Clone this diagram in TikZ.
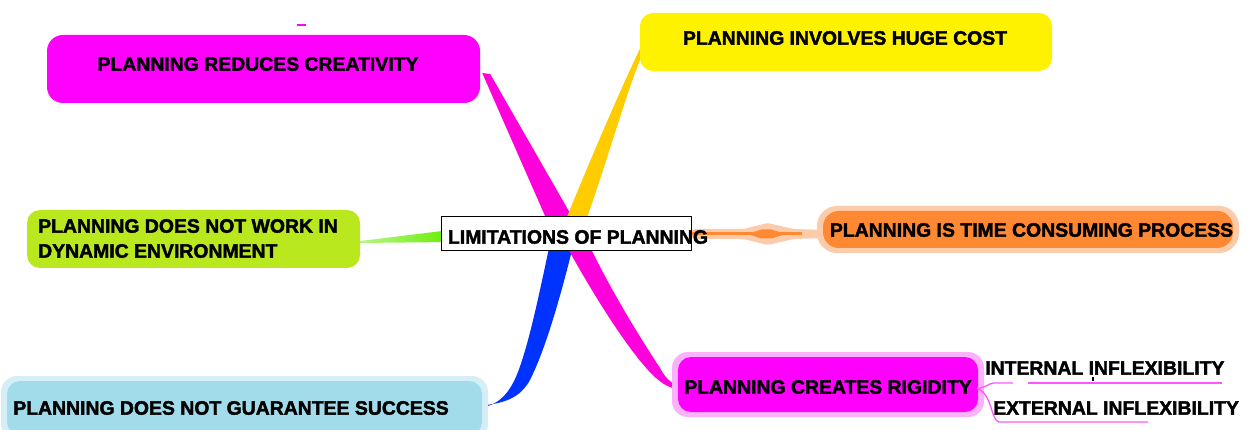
\documentclass[tikz,border=0pt]{standalone}
\usepackage{fontspec}
\setmainfont{Liberation Sans}[BoldFeatures={FakeBold=2}]
\usetikzlibrary{calc}
\pgfdeclarelayer{bg}
\pgfsetlayers{bg,main}
\definecolor{magBox}{HTML}{FF00FF}
\definecolor{magBr}{HTML}{FF00DD}
\definecolor{yelBox}{HTML}{FFF200}
\definecolor{yelBr}{HTML}{FFCC00}
\definecolor{grnBox}{HTML}{B9E81F}
\definecolor{grnBr}{HTML}{66EE00}
\definecolor{grnTip}{HTML}{B8F58A}
\definecolor{bluBr}{HTML}{0033FF}
\definecolor{ltBlue}{HTML}{A2DBEA}
\definecolor{ltBlueHalo}{HTML}{D6EFF6}
\definecolor{orBox}{HTML}{FF8833}
\definecolor{orHalo}{HTML}{FCCBAA}
\definecolor{pinkHalo}{HTML}{FAB2FA}
\definecolor{pinkLn}{HTML}{FF55FF}
\begin{document}
\begin{tikzpicture}[x=1pt,y=-1pt,
  lbl/.style={font=\fontsize{19.4}{25}\selectfont\bfseries, inner sep=0pt, text=black},
  topic/.style={inner sep=0pt, draw=none},
  uline/.style={draw=pinkLn, line width=1.3pt},
]
\useasboundingbox (0,0) rectangle (1250,430);

% --- topic boxes ---
\node[topic, fill=magBox, minimum width=433pt, minimum height=68pt, rounded corners=16pt] (creatBox) at (263.5,69) {};
\node[topic, fill=yelBox, minimum width=412pt, minimum height=58pt, rounded corners=13pt] (costBox) at (846,42) {};
\node[topic, fill=grnBox, minimum width=333pt, minimum height=58pt, rounded corners=13pt] (dynBox) at (193.5,239) {};

\node[topic, fill=orHalo, minimum width=422pt, minimum height=47pt, rounded corners=20pt] (timeHalo) at (1028,229.5) {};
\node[topic, fill=orBox, minimum width=410pt, minimum height=37pt, rounded corners=16pt] (timeBox) at (1028,229.5) {};

\node[topic, fill=ltBlueHalo, minimum width=487pt, minimum height=64pt, rounded corners=16pt] (succHalo) at (244.5,408) {};
\node[topic, fill=ltBlue, minimum width=475pt, minimum height=54pt, rounded corners=13pt] (succBox) at (244.5,408) {};

\node[topic, fill=pinkHalo, minimum width=312pt, minimum height=65pt, rounded corners=16pt] (rigidHalo) at (828,384.5) {};
\node[topic, fill=magBox, minimum width=300pt, minimum height=55pt, rounded corners=13pt] (rigidBox) at (828,384.5) {};

\node[topic, fill=white, draw=black, line width=1pt, minimum width=250pt, minimum height=34pt] (centerBox) at (566,234) {};

% --- branches from the central topic (drawn behind everything else) ---
\coordinate (hub) at (568,234);
\coordinate (orStart) at (centerBox.east);
\coordinate (orEnd) at (centerBox.east -| timeBox.west);
\begin{pgfonlayer}{bg}
  \fill[white] (0,0) rectangle (1250,430);
  % up-left to creativity
  \fill[magBr] ([xshift=2pt,yshift=-4pt]creatBox.east) -- ($(hub)+(-15,0)$)
    -- ($(hub)+(14,0)$) -- ([xshift=10pt,yshift=-5pt]creatBox.east) -- cycle;
  % up-right to huge cost
  \fill[yelBr] ([yshift=-7pt]costBox.west) .. controls (618,95) and (590,160) .. ($(hub)+(-8,0)$)
    -- ($(hub)+(13,0)$) .. controls (605,170) and (625,95) .. ([xshift=3pt,yshift=-11pt]costBox.west) -- cycle;
  % down-left to success
  \fill[bluBr] ($(hub)+(-16,0)$) .. controls (540,290) and (530,340) .. (518,372)
    .. controls (508,398) and (495,405) .. ([yshift=0.5pt]succBox.east)
    -- ([yshift=2.5pt]succBox.east) .. controls (505,403) and (520,398) .. (530,380)
    .. controls (545,350) and (560,300) .. ($(hub)+(8,0)$) -- cycle;
  % down-right to rigidity
  \fill[magBr] ($(hub)+(-8,0)$) .. controls (590,290) and (625,345) .. (648,370)
    .. controls (660,383) and (668,388) .. ([xshift=1pt,yshift=-4.5pt]rigidBox.west)
    -- ([xshift=1pt,yshift=-1.5pt]rigidBox.west) .. controls (672,384) and (665,378) .. (660,368)
    .. controls (635,330) and (605,280) .. ($(hub)+(16,0)$) -- cycle;
  % left to dynamic environment
  \shade[left color=grnTip, right color=grnBr] ([yshift=-2pt]dynBox.east) -- ($(centerBox.west)+(10,-4)$)
    -- ($(centerBox.west)+(10,8)$) -- ([yshift=-4pt]dynBox.east) -- cycle;
  % right to time consuming process: soft halo, line and spindle
  \fill[orHalo, rounded corners=3pt] ($(orStart)+(0,-5)$) -- ($(orStart)+(52,-5)$) -- ($(orStart)+(76,-11)$)
    -- ($(orStart)+(102,-5)$) -- ($(orEnd)+(2,-4)$) -- ($(orEnd)+(2,4)$) -- ($(orStart)+(102,5)$)
    -- ($(orStart)+(76,11)$) -- ($(orStart)+(52,5)$) -- ($(orStart)+(0,5)$) -- cycle;
  \draw[orBox, line width=3pt] (orStart) -- ($(orStart)+(110,0)$);
  \fill[orBox] ($(orStart)+(56,0)$) -- ($(orStart)+(70,-4.5)$) -- ($(orStart)+(80,-4.5)$)
    -- ($(orStart)+(94,0)$) -- ($(orStart)+(80,4.5)$) -- ($(orStart)+(70,4.5)$) -- cycle;
\end{pgfonlayer}

% --- labels ---
\node[lbl] (creatText) at (258,64) {PLANNING REDUCES CREATIVITY};
\node[lbl] (costText) at (845,38) {PLANNING INVOLVES HUGE COST};
\node[lbl, align=left, anchor=west] (dynText) at (38,238.5) {PLANNING DOES NOT WORK IN\\DYNAMIC ENVIRONMENT};
\node[lbl] (centerText) at (578,237) {LIMITATIONS OF PLANNING};
\node[lbl] (timeText) at (1031.5,230) {PLANNING IS TIME CONSUMING PROCESS};
\node[lbl] (succText) at (231,408) {PLANNING DOES NOT GUARANTEE SUCCESS};
\node[lbl] (rigidText) at (828,387) {PLANNING CREATES RIGIDITY};
\node[lbl, anchor=west] (intText) at (985,368) {INTERNAL INFLEXIBILITY};
\node[lbl, anchor=west] (extText) at (993,408) {EXTERNAL INFLEXIBILITY};

% --- sub-topic underlines ---
\coordinate (intEnd) at (1222,383);
\coordinate (extEnd) at (1148,422);
\draw[uline] ([xshift=-1pt,yshift=-4pt]rigidBox.east) .. controls (988,387) and (989,383) .. (994,383) -- (1013,383);
\draw[uline] (1028,383) -- (intEnd);
\draw[uline] ([xshift=-1pt,yshift=-4pt]rigidBox.east) .. controls (992,393) and (991,421) .. (999,422) -- (extEnd);
\draw[black, line width=1.4pt] (1093,377) -- (1093,380.5);

% stray mark above the creativity box
\draw[magBox, line width=1.2pt] (297,25) -- (306,25);
\end{tikzpicture}
\end{document}
